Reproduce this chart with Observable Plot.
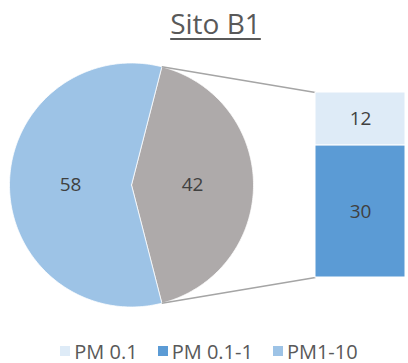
<!DOCTYPE html>
<html>
<head>
<meta charset="utf-8">
<script src="https://cdn.jsdelivr.net/npm/d3@7"></script>
<script src="https://cdn.jsdelivr.net/npm/@observablehq/plot@0.6"></script>
<style>
  body { margin: 0; background: #fff; }
  #chart { width: 408px; height: 363px; overflow: hidden; font-family: "Open Sans", sans-serif; }
  #title {
    height: 52px; box-sizing: border-box; padding-top: 3px; padding-left: 23px;
    text-align: center; font-size: 28px; line-height: 40px; color: #595959;
    text-decoration: underline; text-decoration-thickness: 1.5px; text-underline-offset: 4px;
  }
  #legend { display: flex; justify-content: center; padding-left: 10px; padding-top: 14px; }
  .pm-swatches { margin: 0 !important; font-size: 20px !important; font-family: "Open Sans", sans-serif !important; color: #595959 !important; }
  .pm-swatches-wrap { min-height: 30px !important; }
  .pm-swatch { margin-right: 20px !important; }
  .pm-swatch:last-child { margin-right: 0 !important; }
  .pm-swatch > svg { margin-right: 4px !important; }
</style>
</head>
<body>
<div id="chart">
  <div id="title">Sito B1</div>
  <div id="plot"></div>
  <div id="legend"></div>
</div>
<script>
// Pie: the "Altro" slice is broken out into the stacked bar on the right
const pieCategories = ["Altro", "PM1-10"];
const pieValues = [42, 58];

// Stacked bar: composition of the "Altro" slice, bottom to top
const barCategories = ["PM 0.1-1", "PM 0.1"];
const barValues = [30, 12];

// Legend entries
const legendLabels = ["PM 0.1", "PM 0.1-1", "PM1-10"];

const palette = {
  "PM 0.1": "#deebf7",
  "PM 0.1-1": "#5b9bd5",
  "PM1-10": "#9dc3e6",
  "Altro": "#aeaaaa"
};

const W = 408, H = 270;
const barTotal = d3.sum(barValues);
const PX = 185 / barTotal;               // pixels per percentage point, same on both axes
const pie = {cx: 131 / PX, cy: barTotal / 2, r: 122 / PX};
const bar = {x0: 315 / PX, x1: 405 / PX};

// Slice angles (clockwise from 12 o'clock); the split slice is centred on 3 o'clock
const total = d3.sum(pieValues);
const a0 = Math.PI / 2 - Math.PI * pieValues[0] / total;
const arcs = d3.pie().sort(null).value(d => d.value)
  .startAngle(a0).endAngle(a0 + 2 * Math.PI)(
    pieCategories.map((category, i) => ({category, value: pieValues[i]}))
  );

const at = (a, r) => ({x: pie.cx + r * Math.sin(a), y: pie.cy + r * Math.cos(a)});

const slicePoints = arcs.flatMap(arc => {
  const n = 180;
  const pts = [{...at(0, 0)}];
  for (let i = 0; i <= n; ++i) pts.push(at(arc.startAngle + (arc.endAngle - arc.startAngle) * i / n, pie.r));
  pts.push(at(0, 0));
  return pts.map(p => ({...p, category: arc.data.category}));
});

const pieLabels = arcs.map(arc => ({
  ...at((arc.startAngle + arc.endAngle) / 2, pie.r / 2),
  text: String(arc.data.value)
}));

const barRows = barCategories.map((category, i) => ({category, value: barValues[i]}));

const split = arcs[0];
const edgeTop = at(split.startAngle, pie.r);
const edgeBottom = at(split.endAngle, pie.r);
const connectors = [
  {x1: edgeTop.x, y1: edgeTop.y, x2: bar.x0, y2: barTotal},
  {x1: edgeBottom.x, y1: edgeBottom.y, x2: bar.x0, y2: 0}
];

const chart = Plot.plot({
  width: W,
  height: H,
  marginLeft: 0,
  marginRight: 0,
  marginTop: 40,
  marginBottom: 45,
  x: {domain: [0, W / PX], axis: null},
  y: {domain: [0, barTotal], axis: null},
  color: {domain: Object.keys(palette), range: Object.values(palette)},
  style: {fontFamily: "Open Sans, sans-serif", background: "white"},
  marks: [
    Plot.line(slicePoints, {x: "x", y: "y", z: "category", fill: "category", stroke: "white", strokeWidth: 0.75, curve: "linear"}),
    Plot.link(connectors, {x1: "x1", y1: "y1", x2: "x2", y2: "y2", stroke: "#a5a5a5", strokeWidth: 1.5}),
    Plot.rectY(barRows, {x1: () => bar.x0, x2: () => bar.x1, y: "value", fill: "category", stroke: "white", strokeWidth: 1}),
    Plot.text(pieLabels, {x: "x", y: "y", text: "text", fill: "#404040", fontSize: 19}),
    Plot.text(barRows, Plot.stackY({x: () => (bar.x0 + bar.x1) / 2, y: "value", text: d => String(d.value), fill: "#404040", fontSize: 19}))
  ]
});
document.getElementById("plot").append(chart);

const legend = Plot.legend({
  color: {domain: legendLabels, range: legendLabels.map(l => palette[l])},
  legend: "swatches",
  swatchSize: 10,
  className: "pm"
});
document.getElementById("legend").append(legend);
</script>
</body>
</html>
